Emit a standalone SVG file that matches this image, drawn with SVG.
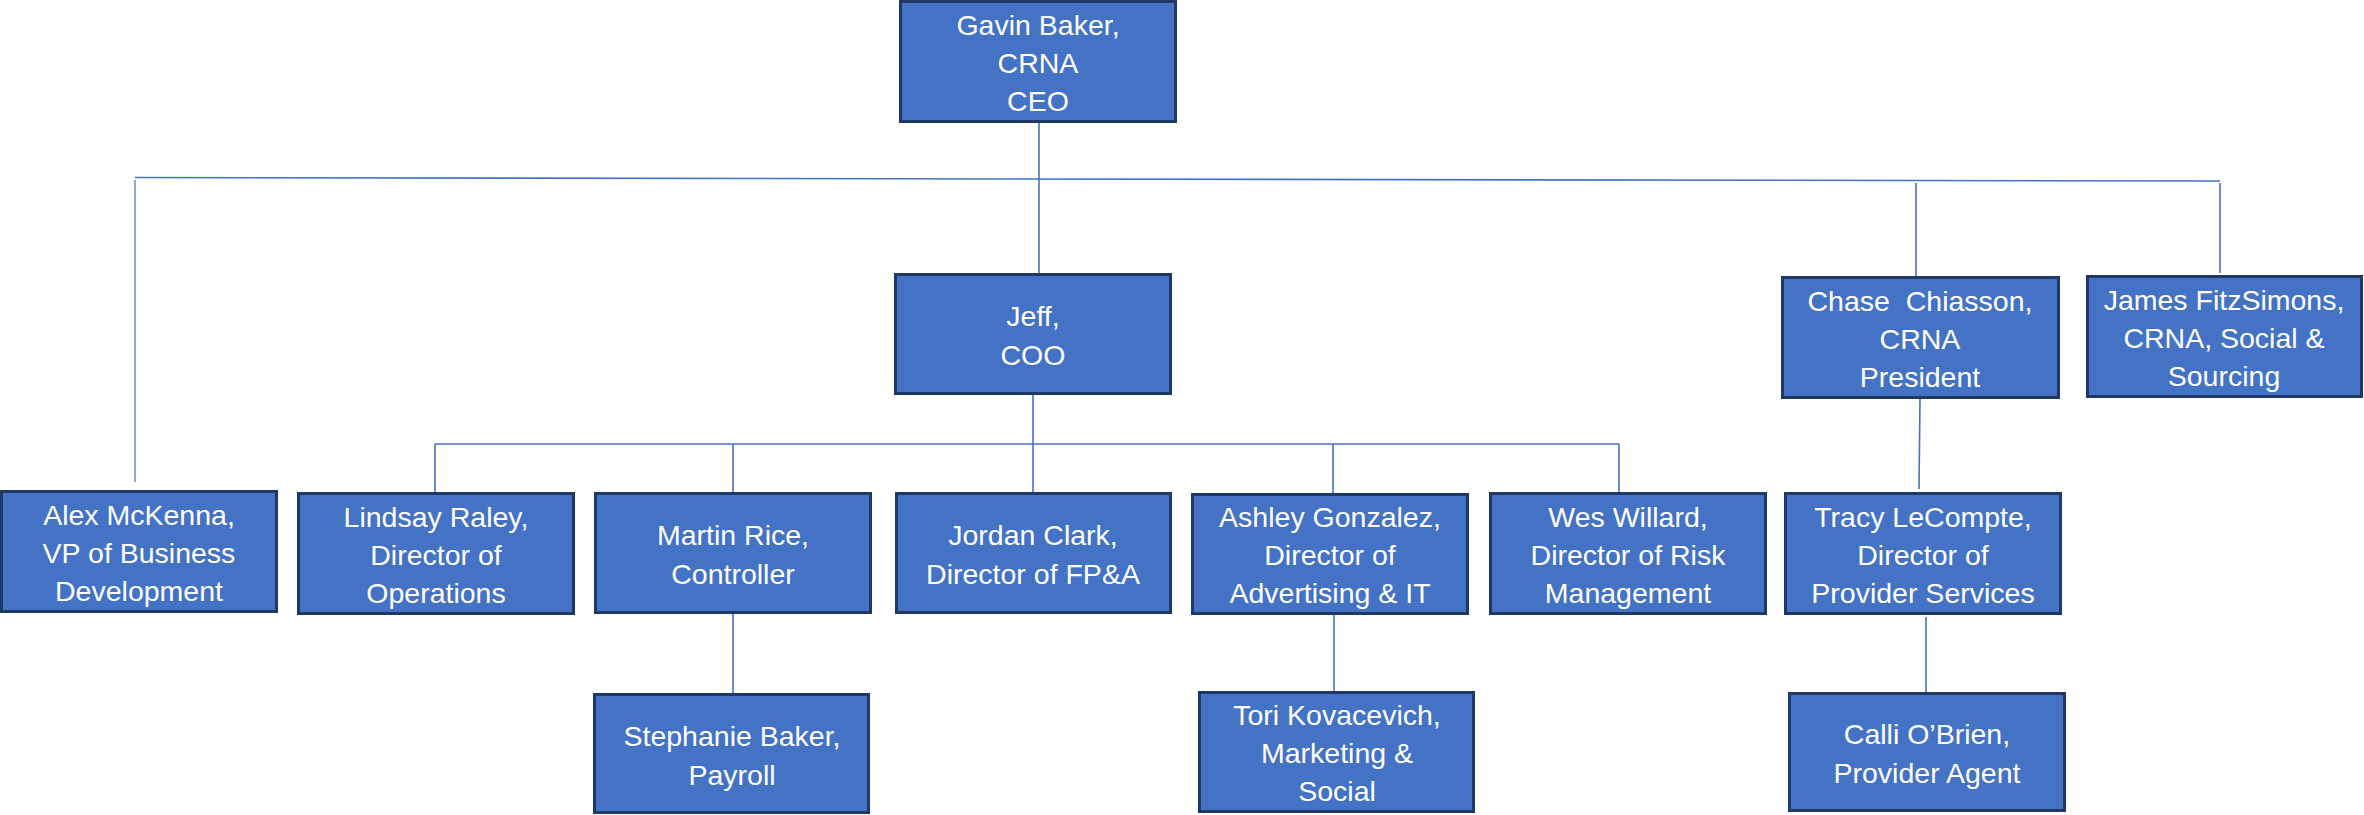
<svg xmlns="http://www.w3.org/2000/svg" width="2364" height="815" viewBox="0 0 2364 815">
<style>
.box{fill:#4472C4;stroke:#1F3864;stroke-width:3}
.lbl{font-family:"Liberation Sans",Arial,sans-serif;font-size:28.5px;fill:#FFFFFF;text-anchor:middle;white-space:pre}
.con{stroke:#4472C4;stroke-width:1.6;fill:none}
</style>
<rect width="2364" height="815" fill="#FFFFFF"/>
<g id="connectors">
<line class="con" x1="1039" y1="123" x2="1039" y2="273"/>
<line class="con" x1="135" y1="177.5" x2="2220" y2="181"/>
<line class="con" x1="135" y1="180" x2="135" y2="482" stroke-opacity="0.75" stroke-width="2.2"/>
<line class="con" x1="1916" y1="183" x2="1916" y2="276"/>
<line class="con" x1="2220" y1="183" x2="2220" y2="273"/>
<line class="con" x1="1033" y1="395" x2="1033" y2="492"/>
<line class="con" x1="435" y1="444" x2="1619" y2="444"/>
<line class="con" x1="435" y1="444" x2="435" y2="492"/>
<line class="con" x1="733" y1="444" x2="733" y2="492"/>
<line class="con" x1="1333" y1="444" x2="1333" y2="493"/>
<line class="con" x1="1619" y1="444" x2="1619" y2="492"/>
<line class="con" x1="733" y1="614" x2="733" y2="693"/>
<line class="con" x1="1334" y1="615" x2="1334" y2="691"/>
<line class="con" x1="1920" y1="399" x2="1919" y2="489"/>
<line class="con" x1="1926" y1="617" x2="1926" y2="692"/>
</g>
<g id="ceo">
<rect class="box" x="900.5" y="1.5" width="275" height="120"/>
<text class="lbl" x="1038" y="35">Gavin Baker,</text>
<text class="lbl" x="1038" y="73">CRNA</text>
<text class="lbl" x="1038" y="111">CEO</text>
</g>
<g id="jeff">
<rect class="box" x="895.5" y="274.5" width="275" height="119"/>
<text class="lbl" x="1033" y="326">Jeff,</text>
<text class="lbl" x="1033" y="365">COO</text>
</g>
<g id="chase">
<rect class="box" x="1782.5" y="277.5" width="276" height="120"/>
<text class="lbl" x="1920" y="310.5">Chase  Chiasson,</text>
<text class="lbl" x="1920" y="348.5">CRNA</text>
<text class="lbl" x="1920" y="387">President</text>
</g>
<g id="james">
<rect class="box" x="2087.5" y="276.5" width="274" height="120"/>
<text class="lbl" x="2224" y="310">James FitzSimons,</text>
<text class="lbl" x="2224" y="348">CRNA, Social &amp;</text>
<text class="lbl" x="2224" y="386">Sourcing</text>
</g>
<g id="alex">
<rect class="box" x="1.5" y="491.5" width="275" height="120"/>
<text class="lbl" x="139" y="525">Alex McKenna,</text>
<text class="lbl" x="139" y="563">VP of Business</text>
<text class="lbl" x="139" y="601">Development</text>
</g>
<g id="lindsay">
<rect class="box" x="298.5" y="493.5" width="275" height="120"/>
<text class="lbl" x="436" y="527">Lindsay Raley,</text>
<text class="lbl" x="436" y="565">Director of</text>
<text class="lbl" x="436" y="603">Operations</text>
</g>
<g id="martin">
<rect class="box" x="595.5" y="493.5" width="275" height="119"/>
<text class="lbl" x="733" y="545">Martin Rice,</text>
<text class="lbl" x="733" y="584">Controller</text>
</g>
<g id="jordan">
<rect class="box" x="896.5" y="493.5" width="274" height="119"/>
<text class="lbl" x="1033" y="545">Jordan Clark,</text>
<text class="lbl" x="1033" y="584">Director of FP&amp;A</text>
</g>
<g id="ashley">
<rect class="box" x="1192.5" y="494.5" width="275" height="119"/>
<text class="lbl" x="1330" y="527">Ashley Gonzalez,</text>
<text class="lbl" x="1330" y="565">Director of</text>
<text class="lbl" x="1330" y="603">Advertising &amp; IT</text>
</g>
<g id="wes">
<rect class="box" x="1490.5" y="493.5" width="275" height="120"/>
<text class="lbl" x="1628" y="527">Wes Willard,</text>
<text class="lbl" x="1628" y="565">Director of Risk</text>
<text class="lbl" x="1628" y="603">Management</text>
</g>
<g id="tracy">
<rect class="box" x="1785.5" y="493.5" width="275" height="120"/>
<text class="lbl" x="1923" y="527">Tracy LeCompte,</text>
<text class="lbl" x="1923" y="565">Director of</text>
<text class="lbl" x="1923" y="603">Provider Services</text>
</g>
<g id="stephanie">
<rect class="box" x="594.5" y="694.5" width="274" height="118"/>
<text class="lbl" x="732" y="746">Stephanie Baker,</text>
<text class="lbl" x="732" y="785">Payroll</text>
</g>
<g id="tori">
<rect class="box" x="1199.5" y="692.5" width="274" height="119"/>
<text class="lbl" x="1337" y="725">Tori Kovacevich,</text>
<text class="lbl" x="1337" y="763">Marketing &amp;</text>
<text class="lbl" x="1337" y="801">Social</text>
</g>
<g id="calli">
<rect class="box" x="1789.5" y="693.5" width="275" height="117"/>
<text class="lbl" x="1927" y="744">Calli O’Brien,</text>
<text class="lbl" x="1927" y="783">Provider Agent</text>
</g>
</svg>
